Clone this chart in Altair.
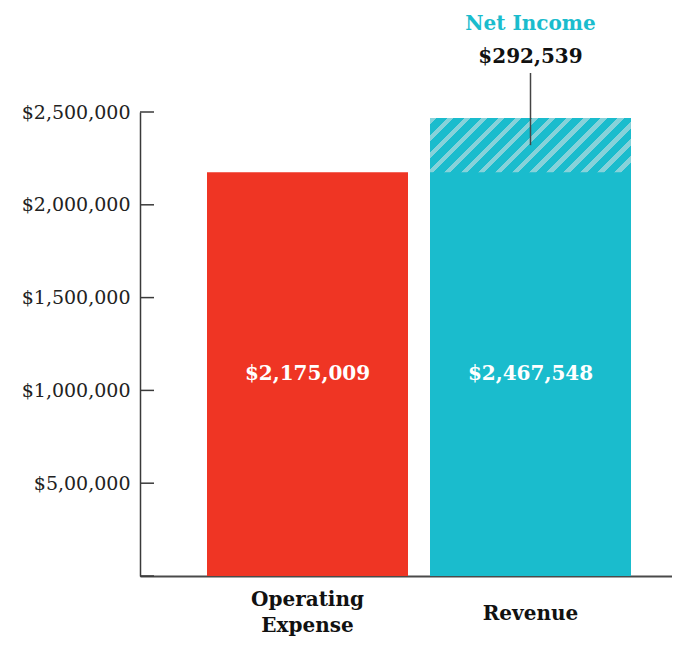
import altair as alt
import pandas as pd

# ---- data ----
categories = ["Operating Expense", "Revenue"]
values = [2175009, 2467548]
value_labels = ["$2,175,009", "$2,467,548"]
net_income = 292539
net_income_label = "$292,539"
net_income_title = "Net Income"
tick_values = [0, 500000, 1000000, 1500000, 2000000, 2500000]
tick_labels = ["", "$5,00,000", "$1,000,000", "$1,500,000", "$2,000,000", "$2,500,000"]

# ---- style ----
RED = "#ef3524"
TEAL = "#1abccd"
STRIPE = "#86d2da"
AXIS = "#3a3a3a"
FONT = "DejaVu Serif"

W, H = 532, 464
Y_MAX = 2500000
BAR_W, STEP = 201, 223
pad_inner = (STEP - BAR_W) / STEP
pad_outer = (W / STEP - (len(categories) - pad_inner)) / 2
align = 67 / (W - STEP * (len(categories) - pad_inner))

bars_df = pd.DataFrame({
    "category": categories,
    "value": values,
    "label": value_labels,
    "color": [RED, TEAL],
})
solid_top = min(values)
bars_df["label_y"] = solid_top / 2

hatch_df = pd.DataFrame({
    "category": [categories[1]],
    "y0": [values[1] - net_income],
    "y1": [values[1]],
    "mid": [values[1] - net_income / 2],
    "title": [net_income_title],
    "label": [net_income_label],
})

ticks_df = pd.DataFrame({"v": tick_values})

# diagonal stripes through a hard-stop linear gradient
hatch_h = net_income / Y_MAX * H
a = BAR_W * (BAR_W + hatch_h) / (BAR_W ** 2 + hatch_h ** 2)
n_periods = 15
light = 0.4
stops = []
for k in range(n_periods):
    s0 = k / n_periods
    s1 = (k + light) / n_periods
    s2 = (k + 1) / n_periods
    stops += [
        alt.GradientStop(offset=s0, color=STRIPE),
        alt.GradientStop(offset=s1, color=STRIPE),
        alt.GradientStop(offset=s1, color=TEAL),
        alt.GradientStop(offset=s2, color=TEAL),
    ]
hatch_fill = alt.Gradient(gradient="linear", stops=stops, x1=0, y1=0,
                          x2=a, y2=a * hatch_h / BAR_W)

label_map = "{" + ",".join(f"'{v}': '{l}'" for v, l in zip(tick_values, tick_labels)) + "}"

x_axis = alt.Axis(
    title=None, ticks=False, tickSize=0, domain=True, domainColor="#4a4a4a",
    domainWidth=2, labelExpr="split(datum.label, ' ')", labelFont=FONT,
    labelFontWeight="bold", labelFontSize=20, labelColor="#111",
    labelLineHeight=26, labelBaseline="middle", labelAngle=0,
    labelPadding={"condition": {"test": f"datum.value == '{categories[1]}'", "value": 37},
                  "value": 23},
)
x_scale = alt.Scale(paddingInner=pad_inner, paddingOuter=pad_outer, align=align)
y_axis = alt.Axis(
    title=None, values=tick_values, labelExpr=f"{label_map}[datum.value]",
    ticks=False, tickSize=0, grid=False, domain=True, domainColor=AXIS,
    domainWidth=1.5, labelFont=FONT, labelFontSize=19, labelColor="#222",
    labelPadding=10,
)
y_scale = alt.Scale(domain=[0, Y_MAX], nice=False, zero=True)


def X():
    return alt.X("category:N", sort=categories, scale=x_scale, axis=x_axis)


def Y(field):
    return alt.Y(field, scale=y_scale, axis=y_axis)


bars = alt.Chart(bars_df).mark_bar().encode(
    x=X(),
    y=Y("value:Q"),
    color=alt.Color("color:N", scale=None),
)

hatch = alt.Chart(hatch_df).mark_bar(color=hatch_fill).encode(
    x=X(),
    y=Y("y0:Q"),
    y2="y1:Q",
)

tick_rules = alt.Chart(ticks_df).mark_rule(color=AXIS, strokeWidth=1.5).encode(
    y=Y("v:Q"),
    x=alt.value(0),
    x2=alt.value(14),
)

value_text = alt.Chart(bars_df).mark_text(
    color="white", font=FONT, fontWeight="bold", fontSize=20, baseline="middle"
).encode(
    x=X(),
    y=Y("label_y:Q"),
    text="label:N",
)

title_text = alt.Chart(hatch_df).mark_text(
    color=TEAL, font=FONT, fontWeight="bold", fontSize=20, baseline="middle", dy=-94
).encode(x=X(), y=Y("y1:Q"), text="title:N")

amount_text = alt.Chart(hatch_df).mark_text(
    color="#111", font=FONT, fontWeight="bold", fontSize=20, baseline="middle", dy=-61
).encode(x=X(), y=Y("y1:Q"), text="label:N")

leader = alt.Chart(hatch_df).mark_rule(color="#444", strokeWidth=1.5, y2Offset=-45).encode(
    x=X(),
    y=Y("mid:Q"),
    y2="y1:Q",
)

chart = alt.layer(
    bars, hatch, tick_rules, value_text, title_text, amount_text, leader
).properties(
    width=W, height=H,
    autosize=alt.AutoSizeParams(type="none"),
    padding={"left": 132, "top": 104, "right": 0, "bottom": 61},
    background="white",
).configure_view(stroke=None)

chart.save("out.html", embed_options={"renderer": "svg", "actions": False})
